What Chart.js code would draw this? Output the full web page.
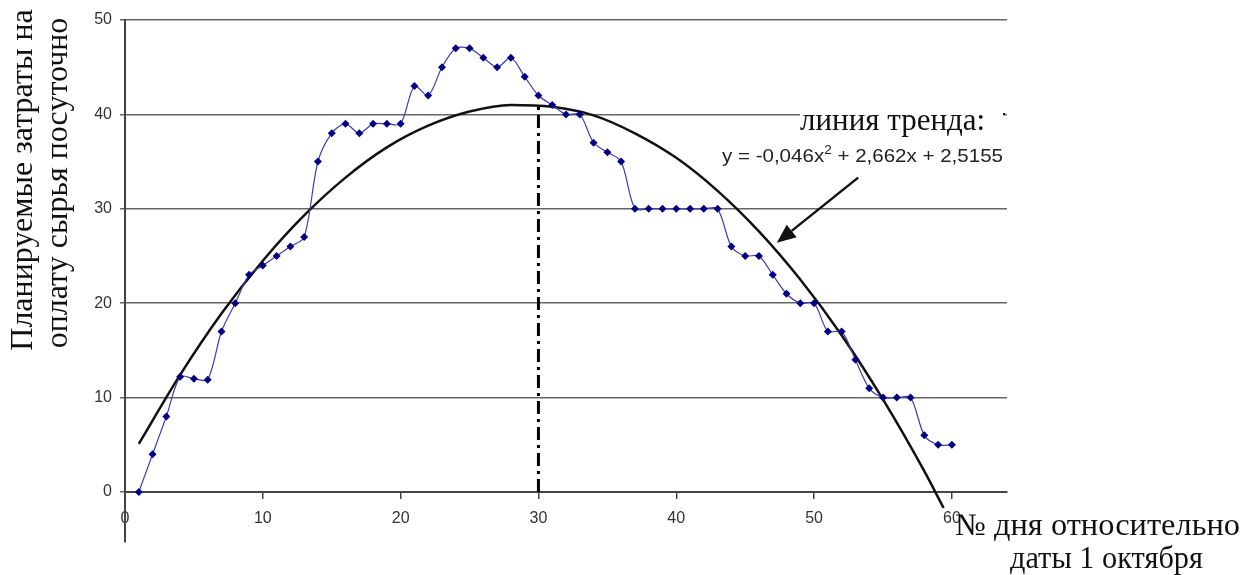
<!DOCTYPE html>
<html lang="ru">
<head>
<meta charset="utf-8">
<title>Затраты на оплату сырья</title>
<script src="https://cdn.jsdelivr.net/npm/chart.js@4.4.1/dist/chart.umd.min.js"></script>
<style>
  html, body { margin: 0; padding: 0; background: #fff; }
  #wrap { width: 1244px; height: 575px; position: relative; }
</style>
</head>
<body>
<div id="wrap"><canvas id="costChart"></canvas></div>
<script>
// Day number relative to 1 October
const days = [
  1, 2, 3, 4, 5, 6, 7, 8, 9, 10,
  11, 12, 13, 14, 15, 16, 17, 18, 19, 20,
  21, 22, 23, 24, 25, 26, 27, 28, 29, 30,
  31, 32, 33, 34, 35, 36, 37, 38, 39, 40,
  41, 42, 43, 44, 45, 46, 47, 48, 49, 50,
  51, 52, 53, 54, 55, 56, 57, 58, 59, 60
];

// Planned daily raw material costs
const costs = [
  0, 4, 8, 12.2, 12, 11.9, 17, 20, 23, 24,
  25, 26, 27, 35, 38, 39, 38, 39, 39, 39,
  43, 42, 45, 47, 47, 46, 45, 46, 44, 42,
  41, 40, 40, 37, 36, 35, 30, 30, 30, 30,
  30, 30, 30, 26, 25, 25, 23, 21, 20, 20,
  17, 17, 14, 11, 10, 10, 10, 6, 5, 5
];

// Trend curve
const trendDays = [1, 4, 7, 10, 13, 16, 19, 22, 25, 28, 31, 34, 37, 40, 43, 46, 49, 52, 55, 58, 59.4];
const trendValues = [5.1, 12.4, 18.9, 24.5, 29.3, 33.3, 36.5, 38.8, 40.3, 41.0, 40.8, 39.9, 38.0, 35.4, 31.9, 27.6, 22.5, 16.6, 9.8, 2.2, -1.7];

// Vertical marker at the trend maximum
const peakDay = [30, 30];
const peakLine = [0, 41.1];

const xTicks = [0, 10, 20, 30, 40, 50, 60];
const yTicks = [0, 10, 20, 30, 40, 50];

const yTitle = ['Планируемые затраты на', 'оплату сырья посуточно'];
const xTitle = ['№ дня относительно', 'даты 1 октября'];
const trendLabel = 'линия тренда:';

const tickFont = { family: '"Liberation Sans", Arial, sans-serif', size: 16 };
const serif = '"Liberation Serif", "Times New Roman", serif';

// draw text stretched to a given width
function fitText(ctx, text, x, y, width) {
  const w = ctx.measureText(text).width;
  ctx.save();
  ctx.translate(x, y);
  ctx.scale(width / w, 1);
  ctx.fillText(text, 0, 0);
  ctx.restore();
}

const annotations = {
  id: 'annotations',
  afterDatasetsDraw(chart) {
    const { ctx } = chart;
    const x = chart.scales.x;
    const y = chart.scales.y;
    ctx.save();

    // white box hides the gridline behind the label
    ctx.fillStyle = '#fff';
    ctx.fillRect(800, 100, 203, 36);

    ctx.fillStyle = '#111';
    ctx.font = '31px ' + serif;
    ctx.textAlign = 'left';
    ctx.textBaseline = 'alphabetic';
    ctx.fillText(trendLabel, 800, 130);

    // equation with superscript
    const eqA = 'y = -0,046x';
    const eqB = ' + 2,662x + 2,5155';
    ctx.fillStyle = '#222';
    ctx.font = '18px "Liberation Sans", Arial, sans-serif';
    const wA = ctx.measureText(eqA).width;
    const wB = ctx.measureText(eqB).width;
    ctx.font = '12px "Liberation Sans", Arial, sans-serif';
    const wS = ctx.measureText('2').width;
    const k = 281 / (wA + wS + wB);
    ctx.translate(722, 162);
    ctx.scale(k, 1);
    ctx.font = '18px "Liberation Sans", Arial, sans-serif';
    ctx.fillText(eqA, 0, 0);
    ctx.font = '12px "Liberation Sans", Arial, sans-serif';
    ctx.fillText('2', wA, -8);
    ctx.font = '18px "Liberation Sans", Arial, sans-serif';
    ctx.fillText(eqB, wA + wS, 0);
    ctx.setTransform(1, 0, 0, 1, 0, 0);

    // arrow pointing at the trend curve
    const x0 = x.getPixelForValue(53.2), y0 = y.getPixelForValue(33.3);
    const x1 = x.getPixelForValue(47.3), y1 = y.getPixelForValue(26.4);
    const ang = Math.atan2(y1 - y0, x1 - x0);
    const headLen = 19, headW = 8;
    const bx = x1 - headLen * Math.cos(ang), by = y1 - headLen * Math.sin(ang);
    ctx.strokeStyle = '#111';
    ctx.lineWidth = 2.5;
    ctx.beginPath();
    ctx.moveTo(x0, y0);
    ctx.lineTo(bx, by);
    ctx.stroke();
    ctx.fillStyle = '#111';
    ctx.beginPath();
    ctx.moveTo(x1, y1);
    ctx.lineTo(bx + headW * Math.sin(ang), by - headW * Math.cos(ang));
    ctx.lineTo(bx - headW * Math.sin(ang), by + headW * Math.cos(ang));
    ctx.closePath();
    ctx.fill();

    // small dot at end of the hidden gridline
    ctx.fillRect(1003, 113, 2, 2);
    ctx.restore();
  },
  afterDraw(chart) {
    const { ctx } = chart;
    ctx.save();
    ctx.fillStyle = '#111';
    ctx.font = '32px ' + serif;
    ctx.textAlign = 'center';
    ctx.textBaseline = 'alphabetic';
    ctx.translate(32, 180);
    ctx.rotate(-Math.PI / 2);
    ctx.fillText(yTitle[0], 0, 0);
    ctx.setTransform(1, 0, 0, 1, 0, 0);
    ctx.translate(67, 183);
    ctx.rotate(-Math.PI / 2);
    ctx.fillText(yTitle[1], 0, 0);
    ctx.setTransform(1, 0, 0, 1, 0, 0);

    ctx.font = '31px ' + serif;
    ctx.textAlign = 'left';
    fitText(ctx, xTitle[0], 955, 535, 285);
    fitText(ctx, xTitle[1], 1010, 568, 193);
    ctx.restore();
  }
};

new Chart(document.getElementById('costChart'), {
  type: 'line',
  data: {
    datasets: [
      {
        label: 'Затраты',
        data: days.map((d, i) => ({ x: d, y: costs[i] })),
        borderColor: '#3c3cae',
        borderWidth: 1.2,
        backgroundColor: '#000080',
        pointStyle: 'rectRot',
        pointRadius: 4,
        pointBorderWidth: 0,
        tension: 0.3,
        fill: false
      },
      {
        label: 'Тренд',
        data: trendDays.map((d, i) => ({ x: d, y: trendValues[i] })),
        borderColor: '#111',
        borderWidth: 2.5,
        pointRadius: 0,
        cubicInterpolationMode: 'monotone',
        fill: false
      },
      {
        label: 'Максимум',
        data: peakDay.map((d, i) => ({ x: d, y: peakLine[i] })),
        borderColor: '#000',
        borderWidth: 3,
        borderDash: [13, 5, 3, 5],
        pointRadius: 0,
        fill: false
      }
    ]
  },
  options: {
    responsive: true,
    maintainAspectRatio: false,
    animation: false,
    layout: { padding: { left: 0, right: 237, top: 20, bottom: 33 } },
    plugins: {
      legend: { display: false },
      tooltip: { enabled: false }
    },
    scales: {
      x: {
        type: 'linear',
        min: 0,
        max: 64,
        position: { y: 0 },
        afterBuildTicks: (scale) => { scale.ticks = xTicks.map(v => ({ value: v })); },
        grid: { drawOnChartArea: false, drawTicks: true, tickLength: 6, color: '#444', lineWidth: 1.5 },
        border: { color: '#444', width: 2 },
        ticks: { font: tickFont, color: '#333', padding: 11, maxRotation: 0, autoSkip: false }
      },
      y: {
        type: 'linear',
        min: -5.3,
        max: 50,
        position: 'left',
        afterBuildTicks: (scale) => { scale.ticks = yTicks.map(v => ({ value: v })); },
        afterFit: (scale) => { scale.width = 125; },
        grid: { color: '#666', lineWidth: 1.5, tickLength: 5 },
        border: { color: '#444', width: 2 },
        ticks: { font: tickFont, color: '#333', padding: 8, autoSkip: false }
      }
    }
  },
  plugins: [annotations]
});
</script>
</body>
</html>
